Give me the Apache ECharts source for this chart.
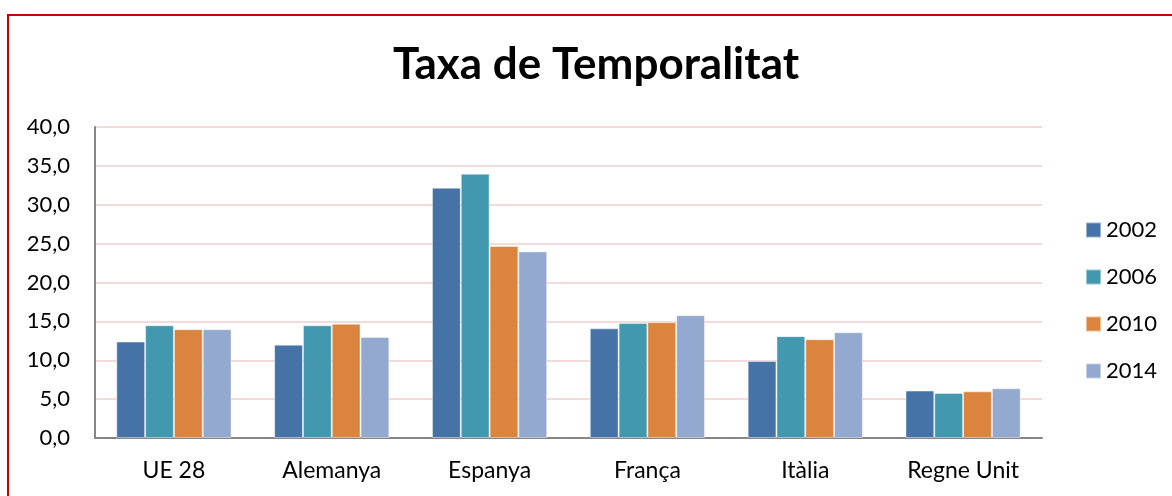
<!DOCTYPE html>
<html>
<head>
<meta charset="utf-8">
<script src="https://cdn.jsdelivr.net/npm/echarts@6/dist/echarts.min.js"></script>
<style>
  html, body { margin: 0; padding: 0; background: #ffffff; }
  #frame {
    position: absolute; left: 7px; top: 14px; width: 1400px; height: 700px;
    border: 2px solid #cc0000; box-sizing: border-box;
  }
  #chart { position: absolute; left: 0; top: 0; width: 1172px; height: 496px; }
</style>
</head>
<body>
<div id="frame"></div>
<div id="chart"></div>
<script>
// Temporary employment rate by country, selected years
const categories = ['UE 28', 'Alemanya', 'Espanya', 'França', 'Itàlia', 'Regne Unit'];
const years = ['2002', '2006', '2010', '2014'];
const values2002 = [12.4, 12.0, 32.2, 14.1, 9.9, 6.1];
const values2006 = [14.5, 14.5, 34.0, 14.8, 13.1, 5.8];
const values2010 = [14.0, 14.7, 24.7, 14.9, 12.7, 6.0];
const values2014 = [14.0, 13.0, 24.0, 15.8, 13.6, 6.4];
const yTicks = { min: 0, max: 40, interval: 5 };
const colors = ['#4572A7', '#4198AF', '#DB843D', '#93A9CF'];

const seriesValues = [values2002, values2006, values2010, values2014];
const fontFamily = 'Lato, "Open Sans", sans-serif';

const chart = echarts.init(document.getElementById('chart'), null, { renderer: 'canvas' });
chart.setOption({
  animation: false,
  backgroundColor: 'transparent',
  color: colors,
  title: {
    text: 'Taxa de Temporalitat',
    left: 393,
    top: 43,
    padding: 0,
    textStyle: { fontFamily, fontSize: 44, fontWeight: 'bold', color: '#000000' }
  },
  legend: {
    orient: 'vertical',
    left: 1085,
    top: 219,
    padding: 0,
    itemWidth: 15,
    itemHeight: 15,
    itemGap: 25,
    icon: 'rect',
    data: years,
    textStyle: { fontFamily, fontSize: 22, color: '#000000' }
  },
  grid: { left: 95, right: 130, top: 127, bottom: 58, containLabel: false },
  xAxis: {
    type: 'category',
    data: categories,
    axisLine: { lineStyle: { color: '#868686', width: 2 } },
    axisTick: { show: false },
    axisLabel: { fontFamily, fontSize: 23, color: '#000000', margin: 21 }
  },
  yAxis: {
    type: 'value',
    min: yTicks.min,
    max: yTicks.max,
    interval: yTicks.interval,
    axisLine: { show: true, lineStyle: { color: '#868686', width: 2 } },
    axisTick: { show: false },
    splitLine: { lineStyle: { color: '#F2DCDB', width: 2 } },
    axisLabel: {
      fontFamily, fontSize: 22, color: '#000000', margin: 25,
      formatter: v => v.toFixed(1).replace('.', ',')
    }
  },
  series: years.map((y, i) => ({
    name: y,
    type: 'bar',
    data: seriesValues[i],
    barGap: '0%',
    barCategoryGap: '27%',
    itemStyle: { borderColor: 'rgba(255,255,255,0.45)', borderWidth: 1 }
  }))
});
</script>
</body>
</html>
